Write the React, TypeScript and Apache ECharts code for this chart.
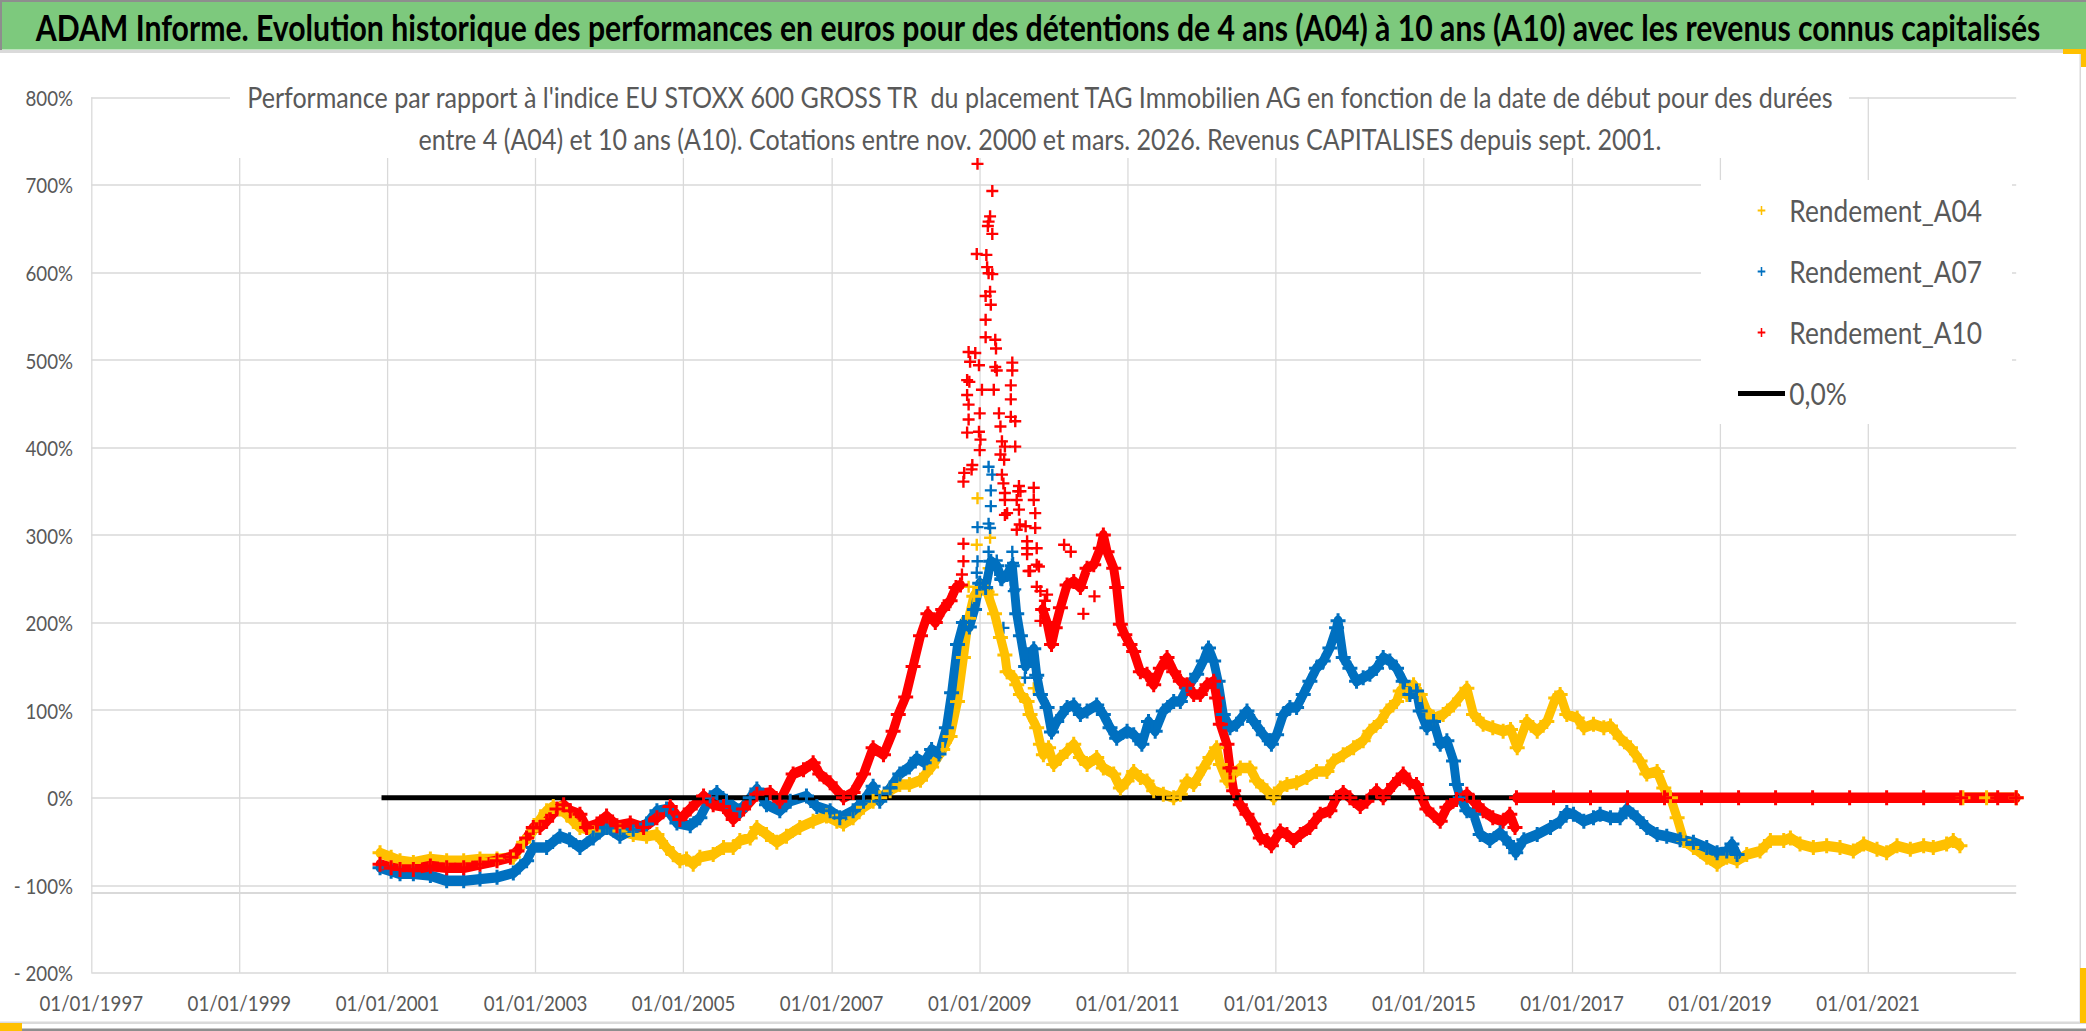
import React, { useEffect, useRef } from "react";
import * as echarts from "echarts";

const S = 0.85;
const W = 2086;
const H = 1031;
const EW = W / S;
const ex = (x: number) => x / S;
const FONT = "Lato, 'Noto Sans', sans-serif";

const TITLE =
  "ADAM Informe. Evolution historique des performances en euros pour des détentions de 4 ans (A04) à 10 ans (A10) avec les revenus connus capitalisés";
const SUB1 =
  "Performance par rapport à l'indice EU STOXX 600 GROSS TR  du placement TAG Immobilien AG en fonction de la date de début pour des durées";
const SUB2 =
  "entre 4 (A04) et 10 ans (A10). Cotations entre nov. 2000 et mars. 2026. Revenus CAPITALISES depuis sept. 2001.";

const xTickYears = [1997, 1999, 2001, 2003, 2005, 2007, 2009, 2011, 2013, 2015, 2017, 2019, 2021];
const yTicks = [-200, -100, 0, 100, 200, 300, 400, 500, 600, 700, 800];

const a04Main: [number, number][] = [
  [2000.9, -63], [2001.05, -68], [2001.17, -72], [2001.35, -74], [2001.58, -70], [2001.8, -72],
  [2002.03, -72], [2002.25, -70], [2002.48, -70], [2002.7, -68], [2002.84, -51], [2002.97, -38],
  [2003.06, -25], [2003.15, -15], [2003.24, -10], [2003.33, -13], [2003.42, -19], [2003.51, -27],
  [2003.6, -34], [2003.78, -38], [2003.96, -34], [2004.14, -38], [2004.32, -42], [2004.5, -44],
  [2004.64, -42], [2004.77, -57], [2004.86, -65], [2004.95, -72], [2005.04, -70], [2005.13, -76],
  [2005.22, -68], [2005.4, -65], [2005.54, -57], [2005.67, -57], [2005.76, -49], [2005.9, -46],
  [2005.99, -34], [2006.12, -42], [2006.26, -51], [2006.39, -44], [2006.57, -34], [2006.75, -27],
  [2006.93, -21], [2007.07, -27], [2007.16, -30], [2007.29, -23], [2007.43, -11], [2007.56, -4],
  [2007.65, 0], [2007.79, 8], [2007.92, 15], [2008.05, 15], [2008.2, 20], [2008.35, 35],
  [2008.5, 55], [2008.6, 70], [2008.7, 110], [2008.78, 160], [2008.85, 205], [2008.92, 230],
  [2009.0, 240], [2009.1, 235], [2009.2, 210], [2009.28, 183], [2009.34, 163], [2009.37, 144],
  [2009.46, 137], [2009.5, 129], [2009.55, 118], [2009.64, 110], [2009.68, 95], [2009.77, 80],
  [2009.82, 61], [2009.86, 49], [2009.93, 57], [2010.0, 38], [2010.09, 46], [2010.18, 53],
  [2010.27, 61], [2010.36, 46], [2010.45, 38], [2010.58, 46], [2010.67, 34], [2010.81, 27],
  [2010.9, 11], [2010.99, 19], [2011.08, 30], [2011.17, 23], [2011.26, 19], [2011.35, 8],
  [2011.48, 4], [2011.62, 0], [2011.71, 4], [2011.8, 19], [2011.89, 15], [2012.02, 34],
  [2012.11, 46], [2012.2, 57], [2012.25, 38], [2012.34, 19], [2012.43, 27], [2012.52, 34],
  [2012.65, 34], [2012.74, 19], [2012.88, 8], [2012.97, 0], [2013.06, 11], [2013.15, 15],
  [2013.28, 17], [2013.42, 23], [2013.55, 30], [2013.69, 30], [2013.78, 42], [2013.91, 49],
  [2014.05, 57], [2014.18, 65], [2014.27, 76], [2014.41, 87], [2014.5, 99], [2014.63, 110],
  [2014.68, 122], [2014.77, 118], [2014.86, 129], [2014.95, 118], [2015.04, 99], [2015.13, 91],
  [2015.26, 95], [2015.4, 106], [2015.58, 125], [2015.67, 95], [2015.8, 84], [2015.93, 80],
  [2016.07, 76], [2016.17, 78], [2016.26, 57], [2016.39, 87], [2016.53, 76], [2016.66, 87],
  [2016.78, 114], [2016.84, 118], [2016.93, 95], [2017.07, 91], [2017.16, 80], [2017.29, 84],
  [2017.43, 80], [2017.52, 82], [2017.65, 68], [2017.79, 57], [2017.92, 42], [2018.01, 27],
  [2018.15, 30], [2018.24, 11], [2018.33, 0], [2018.42, -23], [2018.51, -49], [2018.64, -57],
  [2018.82, -68], [2018.96, -76], [2019.09, -68], [2019.23, -72], [2019.36, -65], [2019.54, -61],
  [2019.68, -49], [2019.86, -49], [2019.95, -46], [2020.08, -53], [2020.26, -57], [2020.44, -55],
  [2020.62, -57], [2020.8, -61], [2020.94, -53], [2021.12, -59], [2021.25, -63], [2021.39, -55],
  [2021.57, -59], [2021.75, -55], [2021.88, -57], [2022.06, -53], [2022.15, -49], [2022.24, -55],
];
const a04Zero: [number, number][] = [[2022.28, 0], [2022.6, 0], [2023.0, 0]];
const a04Cloud: [number, number][] = [
  [2008.85, 241], [2008.96, 289], [2008.97, 342], [2008.96, 232], [2009.14, 297], [2009.12, 262],
  [2009.17, 232], [2009.73, 125], [2009.37, 144],
];

const a07Main: [number, number][] = [
  [2000.9, -80], [2001.05, -84], [2001.17, -87], [2001.35, -87], [2001.58, -89], [2001.8, -95],
  [2002.03, -95], [2002.25, -93], [2002.48, -91], [2002.7, -86], [2002.88, -72], [2002.97, -57],
  [2003.15, -57], [2003.33, -44], [2003.46, -48], [2003.6, -57], [2003.78, -46], [2003.96, -34],
  [2004.14, -44], [2004.32, -36], [2004.5, -30], [2004.64, -15], [2004.77, -13], [2004.91, -29],
  [2005.09, -32], [2005.22, -23], [2005.36, 0], [2005.45, 6], [2005.58, -4], [2005.76, -15],
  [2005.9, 0], [2005.99, 10], [2006.12, -8], [2006.3, -15], [2006.44, -4], [2006.66, 2],
  [2006.8, -10], [2006.98, -15], [2007.11, -23], [2007.29, -15], [2007.43, -4], [2007.56, 13],
  [2007.65, -4], [2007.79, 11], [2007.92, 27], [2008.05, 35], [2008.15, 45], [2008.25, 40],
  [2008.35, 55], [2008.45, 50], [2008.55, 80], [2008.62, 120], [2008.7, 175], [2008.78, 200],
  [2008.86, 195], [2008.93, 215], [2009.0, 245], [2009.08, 240], [2009.15, 270], [2009.23, 265],
  [2009.3, 250], [2009.37, 255], [2009.44, 265], [2009.5, 210], [2009.55, 185], [2009.62, 150],
  [2009.68, 163], [2009.73, 170], [2009.77, 140], [2009.82, 118], [2009.91, 103], [2009.97, 75],
  [2010.04, 87], [2010.18, 103], [2010.27, 106], [2010.36, 95], [2010.45, 99], [2010.58, 106],
  [2010.67, 95], [2010.76, 80], [2010.85, 68], [2010.99, 76], [2011.08, 72], [2011.19, 61],
  [2011.28, 87], [2011.37, 76], [2011.48, 99], [2011.62, 110], [2011.71, 110], [2011.8, 125],
  [2011.93, 141], [2012.02, 156], [2012.09, 171], [2012.16, 156], [2012.22, 133], [2012.29, 95],
  [2012.38, 80], [2012.47, 84], [2012.61, 99], [2012.7, 87], [2012.83, 72], [2012.94, 61],
  [2013.01, 72], [2013.1, 95], [2013.19, 103], [2013.28, 103], [2013.37, 118], [2013.46, 133],
  [2013.55, 148], [2013.64, 156], [2013.73, 171], [2013.82, 194], [2013.84, 202], [2013.91, 160],
  [2014.0, 148], [2014.09, 133], [2014.18, 137], [2014.27, 141], [2014.36, 148], [2014.45, 160],
  [2014.54, 156], [2014.63, 148], [2014.72, 133], [2014.81, 118], [2014.9, 122], [2014.95, 99],
  [2015.04, 80], [2015.13, 87], [2015.22, 61], [2015.31, 65], [2015.4, 42], [2015.44, 15],
  [2015.49, 0], [2015.58, -15], [2015.67, -19], [2015.76, -42], [2015.89, -49], [2016.03, -40],
  [2016.16, -53], [2016.21, -57], [2016.24, -63], [2016.35, -48], [2016.53, -42], [2016.71, -34],
  [2016.84, -27], [2016.93, -17], [2017.02, -19], [2017.16, -27], [2017.29, -23], [2017.38, -19],
  [2017.52, -23], [2017.65, -23], [2017.74, -13], [2017.88, -23], [2018.01, -34], [2018.15, -42],
  [2018.28, -44], [2018.46, -48], [2018.64, -51], [2018.82, -57], [2018.96, -63], [2019.09, -61],
  [2019.16, -53], [2019.23, -65],
];
const a07Cloud: [number, number][] = [
  [2009.12, 378], [2009.17, 369], [2009.15, 351], [2009.15, 333], [2009.12, 313], [2008.97, 309],
  [2009.14, 308], [2008.97, 270], [2008.96, 257], [2009.12, 281], [2009.21, 260], [2009.28, 249],
  [2009.44, 281], [2009.45, 268], [2009.42, 249], [2009.48, 238], [2009.32, 194], [2009.46, 236],
  [2009.61, 137], [2009.77, 137], [2009.23, 271], [2009.08, 238],
];

const a10Early: [number, number][] = [
  [2000.9, -76], [2001.05, -80], [2001.17, -82], [2001.35, -82], [2001.58, -78], [2001.8, -80],
  [2002.03, -80], [2002.25, -76], [2002.48, -72], [2002.66, -68], [2002.75, -61], [2002.88, -46],
  [2002.97, -34], [2003.06, -34], [2003.15, -27], [2003.29, -13], [2003.38, -8], [2003.47, -15],
  [2003.6, -19], [2003.69, -34], [2003.83, -30], [2003.96, -21], [2004.1, -32], [2004.28, -29],
  [2004.46, -34], [2004.64, -23], [2004.82, -10], [2004.95, -25], [2005.09, -13], [2005.27, 2],
  [2005.4, -8], [2005.54, -10], [2005.67, -25], [2005.81, -13], [2005.99, 4], [2006.17, 6],
  [2006.3, -4], [2006.48, 27], [2006.62, 32], [2006.75, 40], [2006.84, 27], [2006.98, 17],
  [2007.16, 0], [2007.29, 6], [2007.43, 27], [2007.56, 57], [2007.7, 49], [2007.83, 76],
  [2007.9, 95], [2008.0, 115], [2008.1, 150], [2008.2, 185], [2008.3, 210], [2008.4, 200],
  [2008.5, 215], [2008.6, 225], [2008.68, 240], [2008.74, 243],
];
const a10Late: [number, number][] = [
  [2009.85, 215], [2009.91, 200], [2009.97, 175], [2010.02, 194], [2010.09, 217], [2010.18, 243],
  [2010.27, 247], [2010.36, 240], [2010.45, 262], [2010.54, 266], [2010.63, 285], [2010.67, 300],
  [2010.72, 281], [2010.81, 262], [2010.85, 240], [2010.9, 198], [2010.96, 186], [2011.03, 175],
  [2011.08, 167], [2011.17, 144], [2011.26, 141], [2011.35, 129], [2011.44, 148], [2011.53, 160],
  [2011.62, 144], [2011.71, 133], [2011.8, 129], [2011.89, 118], [2011.98, 118], [2012.07, 129],
  [2012.16, 133], [2012.2, 114], [2012.25, 84], [2012.34, 61], [2012.38, 34], [2012.43, 8],
  [2012.52, -8], [2012.61, -19], [2012.7, -30], [2012.79, -46], [2012.88, -49], [2012.94, -55],
  [2013.06, -38], [2013.15, -42], [2013.24, -49], [2013.33, -42], [2013.46, -34], [2013.6, -19],
  [2013.73, -15], [2013.82, 0], [2013.91, 6], [2014.0, 0], [2014.14, -10], [2014.23, -4],
  [2014.36, 8], [2014.45, 0], [2014.59, 15], [2014.72, 27], [2014.81, 17], [2014.9, 15],
  [2014.97, 0], [2015.04, -13], [2015.22, -27], [2015.31, -11], [2015.44, -2], [2015.58, 4],
  [2015.67, -4], [2015.8, -15], [2015.93, -23], [2016.07, -27], [2016.16, -19], [2016.23, -34],
];
const a10Zero: [number, number][] = [
  [2016.25, 0], [2016.75, 0], [2017.25, 0], [2017.75, 0], [2018.25, 0], [2018.75, 0], [2019.25, 0],
  [2019.75, 0], [2020.25, 0], [2020.75, 0], [2021.25, 0], [2021.75, 0], [2022.25, 0], [2022.75, 0],
  [2023.0, 0],
];
const a10Cloud: [number, number][] = [
  [2008.97, 724], [2009.17, 693], [2009.14, 664], [2009.12, 658], [2009.11, 653], [2009.17, 644],
  [2008.96, 621], [2009.09, 620], [2009.1, 606], [2009.12, 599], [2009.17, 598], [2009.14, 578],
  [2009.08, 573], [2009.15, 563], [2009.08, 546], [2009.08, 526], [2009.21, 523], [2009.22, 513],
  [2008.85, 509], [2008.94, 508], [2008.87, 498], [2008.99, 494], [2009.21, 492], [2009.23, 488],
  [2009.44, 497], [2009.44, 488], [2008.83, 477], [2008.86, 475], [2009.03, 466], [2009.19, 466],
  [2009.42, 471], [2009.42, 455], [2008.83, 460], [2008.85, 449], [2009.0, 439], [2009.26, 439],
  [2009.42, 435], [2009.48, 430], [2008.85, 432], [2008.83, 417], [2008.99, 418], [2009.28, 424],
  [2009.01, 409], [2009.3, 407], [2009.34, 401], [2009.0, 397], [2009.48, 401], [2009.28, 392],
  [2009.33, 386], [2008.9, 380], [2008.79, 371], [2008.89, 375], [2008.78, 361], [2009.3, 369],
  [2009.32, 359], [2009.53, 356], [2009.55, 350], [2009.73, 354], [2009.34, 348], [2009.34, 340],
  [2009.5, 340], [2009.53, 329], [2009.73, 340], [2009.37, 325], [2009.5, 306], [2009.62, 310],
  [2009.75, 325], [2009.75, 308], [2008.78, 290], [2008.78, 270], [2008.76, 255], [2009.64, 293],
  [2009.64, 278], [2009.68, 259], [2009.77, 285], [2009.8, 264], [2009.77, 241], [2009.91, 232],
  [2009.34, 323], [2009.52, 350], [2009.54, 312], [2009.64, 285], [2009.77, 266], [2009.66, 259],
  [2009.82, 236], [2009.82, 202], [2009.88, 225], [2010.14, 289], [2010.23, 281], [2010.4, 210],
  [2010.55, 230],
];

const zeroLine: [number, number][] = [[2000.92, 0], [2016.2, 0]];

const PLUS = "path://M4,0H6V4H10V6H6V10H4V6H0V4H4Z";
const BAR = "path://M0,0H55V5H0Z";
const YELLOW = "#FFC000";
const BLUE = "#0070C0";
const RED = "#FF0000";

function withGap(a: any[], b: any[]) {
  const last = a[a.length - 1][0];
  return [...a, [last, null], ...b];
}

function bandSeries(name: string, color: string, data: any[]) {
  return {
    name,
    type: "line",
    data,
    color,
    connectNulls: false,
    showSymbol: true,
    symbol: PLUS,
    symbolSize: [15 / S, 15],
    itemStyle: { color, borderWidth: 0 },
    lineStyle: { color, width: 10.5, cap: "round", join: "round" },
    emphasis: { disabled: true },
  };
}

function cloudSeries(name: string, color: string, data: [number, number][]) {
  return {
    name,
    type: "scatter",
    data,
    color,
    symbol: PLUS,
    symbolSize: [12 / S, 12],
    itemStyle: { color, borderWidth: 0, opacity: 1 },
    emphasis: { disabled: true },
  };
}

export default function App() {
  const ref = useRef<HTMLDivElement>(null);

  useEffect(() => {
    if (!ref.current) return;
    const chart = echarts.init(ref.current, null, { renderer: "svg" });
    const rect = (x: number, y: number, w: number, h: number, fill: string, z = 50) => ({
      type: "rect",
      silent: true,
      z,
      shape: { x: ex(x), y, width: ex(w), height: h },
      style: { fill },
    });
    const text = (x: number, y: number, t: string, size: number, color: string, weight: string) => ({
      type: "text",
      silent: true,
      z: 52,
      x: ex(x),
      y,
      style: {
        text: t,
        fill: color,
        fontSize: size,
        fontWeight: weight,
        fontFamily: FONT,
        align: "center",
        verticalAlign: "middle",
      },
    });

    const option: any = {
      animation: false,
      backgroundColor: "#ffffff",
      textStyle: { fontFamily: FONT },
      grid: {
        left: ex(91.3),
        right: EW - ex(2016.3),
        top: 97.3,
        bottom: H - 972.8,
        containLabel: false,
      },
      xAxis: {
        type: "value",
        min: xTickYears[0],
        max: 2023,
        interval: 2,
        axisLine: { show: false },
        axisTick: { show: false },
        splitLine: { show: true, showMaxLine: false, lineStyle: { color: "#d9d9d9", width: 1.5 } },
        axisLabel: {
          showMaxLabel: false,
          margin: 19,
          color: "#595959",
          fontSize: 22,
          fontFamily: FONT,
          formatter: (v: number) => (xTickYears.indexOf(v) >= 0 ? "01/01/" + v : ""),
        },
      },
      yAxis: {
        type: "value",
        min: yTicks[0],
        max: yTicks[yTicks.length - 1],
        interval: 100,
        axisLine: { show: false },
        axisTick: { show: false },
        splitLine: { show: true, lineStyle: { color: "#d9d9d9", width: 1.5 } },
        axisLabel: {
          margin: 21.5,
          color: "#595959",
          fontSize: 22,
          fontFamily: FONT,
          formatter: (v: number) => (v < 0 ? "- " + -v + "%" : v + "%"),
        },
      },
      legend: {
        orient: "vertical",
        left: ex(1701),
        top: 180,
        padding: [15, 35, 15, ex(1738) - ex(1701)],
        backgroundColor: "#ffffff",
        itemWidth: ex(47),
        itemHeight: 9,
        itemGap: 30,
        symbolKeepAspect: true,
        itemStyle: { borderWidth: 0 },
        textStyle: { fontSize: 31, lineHeight: 30, color: "#595959", fontFamily: FONT },
        data: [
          { name: "Rendement_A04", icon: PLUS },
          { name: "Rendement_A07", icon: PLUS },
          { name: "Rendement_A10", icon: PLUS },
          { name: "0,0%", icon: BAR },
        ],
      },
      graphic: [
        rect(0, 0, W, 2, "#8e8e8e"),
        rect(0, 2, W, 47.5, "#7DC97D"),
        rect(0, 0, 2, 50, "#8e8e8e"),
        rect(0, 50, W, 3, "#dadada"),
        rect(2079.5, 53, 1.5, 969, "#d9d9d9"),
        rect(0, 1021.5, W, 2.5, "#dadada"),
        rect(0, 1028.5, W, 2.5, "#8e8e8e"),
        rect(2063, 49, 23, 5, YELLOW),
        rect(2081, 49, 5, 18, YELLOW),
        rect(2080, 968, 6, 55, YELLOW),
        rect(0, 1023, 22, 8, YELLOW),
        rect(230, 54, 1619, 104, "#ffffff"),
        text(1038, 27, TITLE, 35.5, "#000000", "bold"),
        text(1040, 97, SUB1, 29.5, "#595959", "normal"),
        text(1040, 139, SUB2, 29.5, "#595959", "normal"),
      ],
      series: [
        bandSeries("Rendement_A04", YELLOW, withGap(a04Main, a04Zero)),
        cloudSeries("Rendement_A04", YELLOW, a04Cloud),
        bandSeries("Rendement_A07", BLUE, a07Main),
        cloudSeries("Rendement_A07", BLUE, a07Cloud),
        bandSeries("Rendement_A10", RED, withGap(withGap(a10Early, a10Late), a10Zero)),
        cloudSeries("Rendement_A10", RED, a10Cloud),
        {
          name: "0,0%",
          type: "line",
          data: zeroLine,
          color: "#000000",
          symbol: "none",
          itemStyle: { color: "#000000" },
          lineStyle: { color: "#000000", width: 5 },
          emphasis: { disabled: true },
          markLine: {
            silent: true,
            symbol: "none",
            label: { show: false },
            lineStyle: { color: "#d9d9d9", type: "solid", width: 2 },
            data: [{ yAxis: -109 }],
          },
        },
      ],
    };
    chart.setOption(option);
    return () => chart.dispose();
  }, []);

  return (
    <div
      style={{
        position: "fixed",
        left: 0,
        top: 0,
        width: W,
        height: H,
        overflow: "hidden",
        background: "#ffffff",
      }}
    >
      <div
        ref={ref}
        style={{
          width: EW,
          height: H,
          transform: `scaleX(${S})`,
          transformOrigin: "0 0",
        }}
      />
    </div>
  );
}
